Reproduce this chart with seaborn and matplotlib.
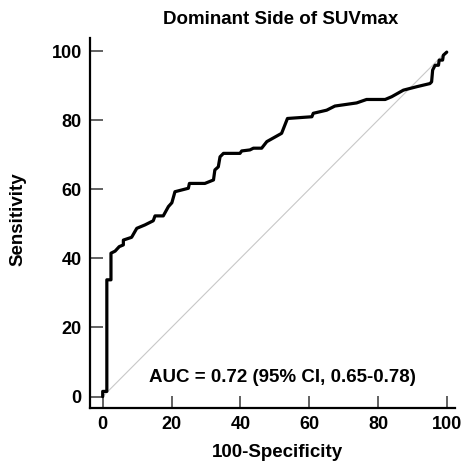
import matplotlib
matplotlib.use("Agg")
import matplotlib.pyplot as plt
import pandas as pd
import seaborn as sns

# ROC curve points (100-Specificity, Sensitivity)
fpr = [0, 0, 1.2, 1.2, 2.4, 2.4, 3.6, 4.8, 6.0, 6.0, 8.4, 9.9, 12.3, 14.7,
       15.2, 17.6, 19.1, 20.1, 21.0, 24.9, 25.2, 29.7, 32.2, 32.6, 33.6,
       34.1, 35.1, 39.9, 40.4, 42.8, 43.8, 46.2, 47.7, 52.0, 53.7, 60.8,
       61.2, 65.1, 67.5, 73.8, 76.7, 82.1, 84.0, 87.4, 91.3, 95.1, 95.6,
       95.9, 96.6, 97.6, 97.8, 98.8, 99.0, 100.0]
tpr = [0, 1.5, 1.5, 33.8, 33.8, 41.5, 42.1, 43.4, 43.9, 45.3, 46.1, 48.7,
       49.7, 50.9, 52.3, 52.3, 55.0, 56.1, 59.3, 60.3, 61.7, 61.7, 62.7,
       65.6, 66.5, 69.4, 70.4, 70.4, 71.1, 71.4, 71.9, 71.9, 73.8, 76.2,
       80.5, 81.0, 82.0, 82.9, 84.1, 85.0, 86.0, 86.0, 86.8, 88.7, 89.7,
       90.6, 91.1, 94.5, 95.9, 95.9, 97.4, 97.4, 98.8, 99.7]

chance = [0, 100]

title = "Dominant Side of SUVmax"
auc_text = "AUC = 0.72 (95% CI, 0.65-0.78)"
ticks = [0, 20, 40, 60, 80, 100]

sns.set_style("ticks")
plt.rcParams['font.family'] = ['Liberation Sans', 'DejaVu Sans']
plt.rcParams['font.weight'] = 'bold'
plt.rcParams['text.color'] = 'black'
plt.rcParams['axes.labelcolor'] = 'black'

df = pd.DataFrame({'fpr': fpr, 'tpr': tpr})

fig = plt.figure(figsize=(4.65, 4.66), dpi=100)
ax = fig.add_axes([0.1935, 0.1245, 0.785, 0.794])

ax.plot(chance, chance, color='#c8c8c8', lw=0.8, zorder=1)
sns.lineplot(data=df, x='fpr', y='tpr', sort=False, estimator=None,
             color='black', lw=2.3, ax=ax, zorder=2)

ax.set_xlim(-3.7, 102.4)
ax.set_ylim(-3.3, 103.8)
ax.set_xticks(ticks)
ax.set_yticks(ticks)

sns.despine(ax=ax)
for side in ['left', 'bottom']:
    ax.spines[side].set_linewidth(1.6)
    ax.spines[side].set_color('black')
ax.tick_params(direction='in', length=9, width=1.3, color='#555555',
               labelcolor='black', labelsize=13, pad=6)
for lab in ax.get_xticklabels() + ax.get_yticklabels():
    lab.set_fontweight('bold')

ax.set_title(title, fontsize=13.5, fontweight='bold', pad=10, x=0.523,
             color='black')
ax.set_xlabel("100-Specificity", fontsize=13.5, fontweight='bold', labelpad=8)
ax.set_ylabel("Sensitivity", fontsize=13.5, fontweight='bold', labelpad=18)
ax.xaxis.label.set_x(0.514)
ax.yaxis.label.set_y(0.511)
ax.text(52.1, 5.4, auc_text, ha='center', va='center', fontsize=13.5,
        fontweight='bold', color='black')

fig.savefig("out.png", dpi=100)
